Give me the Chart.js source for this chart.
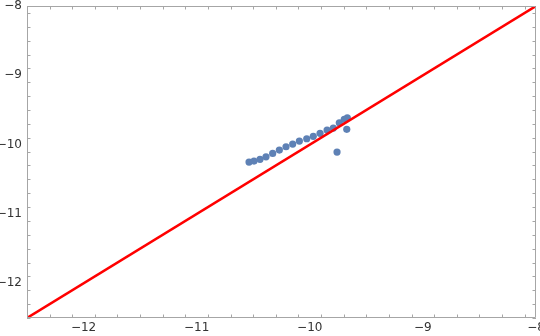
<!DOCTYPE html>
<html lang="en">
<head>
    <meta charset="UTF-8">
    <title>Scatter vs identity</title>
    <script src="https://cdn.jsdelivr.net/npm/chart.js"></script>
    <style>
        body { margin: 0; background: #fff; }
        #wrap { width: 540px; height: 336px; }
    </style>
</head>
<body>
    <div id="wrap"><canvas id="plot"></canvas></div>
    <script>
        // points
        const pointX = [-10.537, -10.493, -10.44, -10.387, -10.328, -10.269, -10.21, -10.151, -10.092,
                        -10.027, -9.969, -9.909, -9.847, -9.792, -9.739, -9.695, -9.668, -9.759, -9.673];
        const pointY = [-10.251, -10.237, -10.212, -10.175, -10.126, -10.078, -10.03, -9.991, -9.948,
                        -9.915, -9.88, -9.837, -9.789, -9.76, -9.684, -9.635, -9.612, -10.107, -9.779];

        // identity line end points
        const lineX = [-12.5, -8];
        const lineY = [-12.5, -8];

        const xTicks = [-12, -11, -10, -9, -8];
        const yTicks = [-12, -11, -10, -9, -8];
        const axisMin = -12.5;
        const axisMax = -8;

        const minus = v => String(v).replace('-', '\u2212');

        // Mathematica style frame with inward ticks on all four sides
        const framePlugin = {
            id: 'frame',
            afterDatasetsDraw(chart) {
                const { ctx, chartArea: a, scales } = chart;
                const sx = scales.x, sy = scales.y;
                ctx.save();
                ctx.strokeStyle = '#a6a6a6';
                ctx.lineWidth = 1;
                ctx.beginPath();
                ctx.rect(a.left + 0.5, a.top + 0.5, a.right - a.left - 1, a.bottom - a.top - 1);
                ctx.stroke();
                ctx.beginPath();
                for (let i = -125; i <= -80; i += 2) {
                    const v = i / 10;
                    const major = i % 10 === 0;
                    const len = major ? 6 : 3.5;
                    const px = Math.round(sx.getPixelForValue(v)) + 0.5;
                    const py = Math.round(sy.getPixelForValue(v)) + 0.5;
                    ctx.moveTo(px, a.bottom); ctx.lineTo(px, a.bottom - len);
                    ctx.moveTo(px, a.top); ctx.lineTo(px, a.top + len);
                    ctx.moveTo(a.left, py); ctx.lineTo(a.left + len, py);
                    ctx.moveTo(a.right, py); ctx.lineTo(a.right - len, py);
                }
                ctx.stroke();
                ctx.restore();
            }
        };

        const noMargins = s => {
            s.paddingLeft = 0; s.paddingRight = 0;
            s.paddingTop = 0; s.paddingBottom = 0;
        };

        new Chart(document.getElementById('plot'), {
            type: 'scatter',
            data: {
                datasets: [
                    {
                        type: 'line',
                        data: lineX.map((x, i) => ({ x: x, y: lineY[i] })),
                        borderColor: '#ff0000',
                        borderWidth: 2.5,
                        pointRadius: 0,
                        fill: false
                    },
                    {
                        data: pointX.map((x, i) => ({ x: x, y: pointY[i] })),
                        backgroundColor: '#5e81b5',
                        borderWidth: 0,
                        pointRadius: 3.6
                    }
                ]
            },
            options: {
                responsive: true,
                maintainAspectRatio: false,
                animation: false,
                layout: { padding: { top: 6, right: 4, left: 0, bottom: 0 } },
                plugins: { legend: { display: false }, tooltip: { enabled: false } },
                scales: {
                    x: {
                        type: 'linear',
                        min: axisMin,
                        max: axisMax,
                        afterBuildTicks: s => { s.ticks = xTicks.map(v => ({ value: v })); },
                        afterFit: s => { s.height = 18; noMargins(s); },
                        grid: { display: false, drawTicks: false },
                        border: { display: false },
                        ticks: {
                            padding: 3,
                            color: '#333',
                            font: { family: 'DejaVu Sans', size: 12 },
                            maxRotation: 0,
                            callback: v => minus(v)
                        }
                    },
                    y: {
                        type: 'linear',
                        min: axisMin,
                        max: axisMax,
                        afterBuildTicks: s => { s.ticks = yTicks.map(v => ({ value: v })); },
                        afterFit: s => { s.width = 27; noMargins(s); },
                        grid: { display: false, drawTicks: false },
                        border: { display: false },
                        ticks: {
                            padding: 5,
                            color: '#333',
                            font: { family: 'DejaVu Sans', size: 12 },
                            callback: v => minus(v)
                        }
                    }
                }
            },
            plugins: [framePlugin]
        });
    </script>
</body>
</html>
